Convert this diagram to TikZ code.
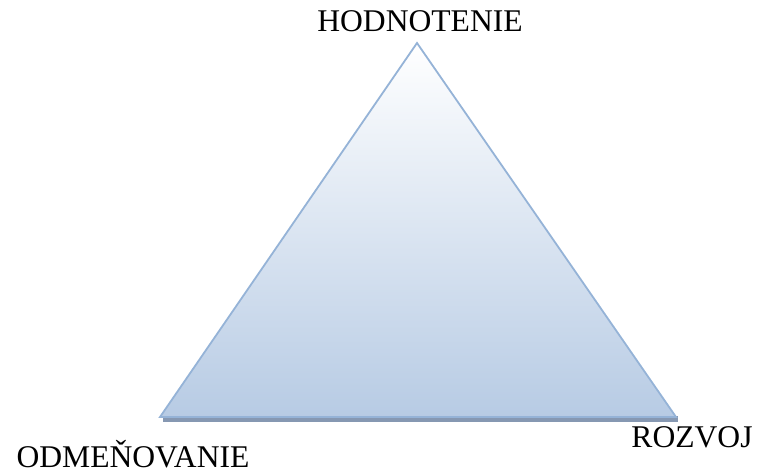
\documentclass[tikz,border=0pt]{standalone}
\usepackage{fontspec}
\setmainfont{Liberation Serif}
\usetikzlibrary{calc}
\definecolor{edgeblue}{RGB}{149,179,215}
\definecolor{fillblue}{RGB}{183,203,228}
\definecolor{shadowblue}{RGB}{134,152,178}
\tikzset{corner label/.style={anchor=base, inner sep=0pt, font=\fontsize{31.6}{37}\selectfont}}

\begin{document}
\begin{tikzpicture}[x=1pt, y=-1pt]
	%%%%% START %%%%%
	\useasboundingbox (0, 0) rectangle (760, 473);

	\coordinate (apex) at (417, 43);
	\coordinate (bl) at (160, 417);
	\coordinate (br) at (676, 417);

	% shadow under the base
	\fill[color=shadowblue] (163, 416) rectangle (678, 421.5);

	\shade[top color=white, bottom color=fillblue] (apex) -- (br) -- (bl) -- cycle;
	\draw[line width=1.8pt, color=edgeblue, line join=miter] (apex) -- (br) -- (bl) -- cycle;

	\node[corner label] (hodnotenie) at (420, 32) {HODNOTENIE};
	\node[corner label] (odmenovanie) at (133, 467) {ODMEŇOVANIE};
	\node[corner label] (rozvoj) at (692, 447) {ROZVOJ};
	%%%%% END %%%%%
\end{tikzpicture}
\end{document}
